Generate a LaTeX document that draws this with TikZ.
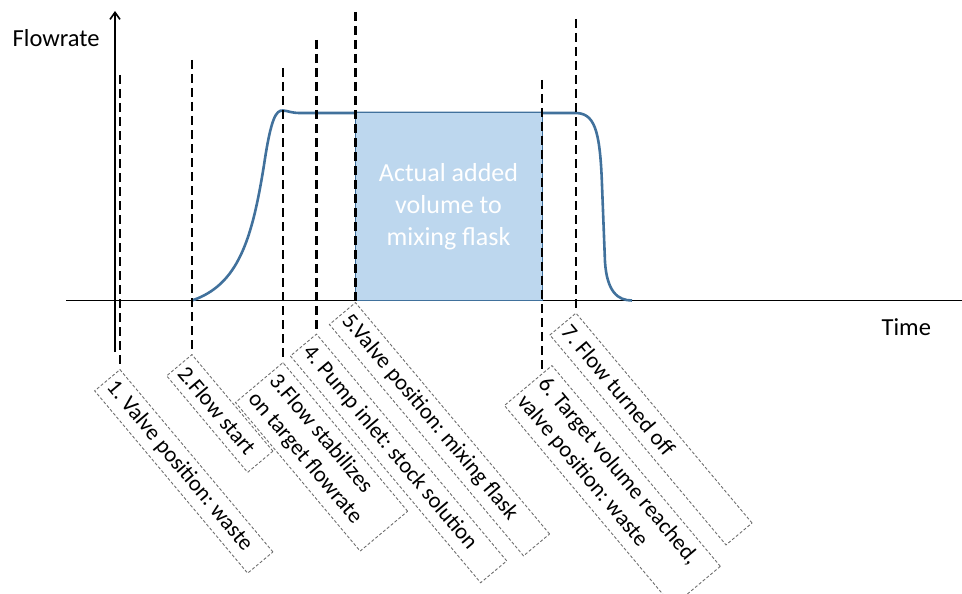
\documentclass[tikz,border=0pt]{standalone}
\usepackage{fontspec}
\setmainfont{Carlito}
\usetikzlibrary{arrows.meta,calc}
\definecolor{flowblue}{HTML}{41719C}
\definecolor{volfill}{HTML}{BDD7EE}
\definecolor{boxgray}{HTML}{6E6E6E}
\frenchspacing
\tikzset{
  axisline/.style={line width=1.6pt, black},
  marker/.style={draw=black, line width=2.7pt, dash pattern=on 9pt off 5pt},
  stepnote/.style={draw=boxgray, line width=0.9pt, dash pattern=on 3pt off 2pt,
    rotate=-50, anchor=north west, inner xsep=5pt, inner ysep=0pt, align=flush left,
    font=\fontsize{22.5}{27.5}\selectfont},
  axislabel/.style={anchor=base west, inner sep=0pt, font=\fontsize{24.5}{29}\selectfont},
}
\begin{document}
\begin{tikzpicture}[x=1pt,y=-1pt]
\useasboundingbox (0,0) rectangle (962,594);
\clip (0,0) rectangle (962,594);

% axes
\coordinate (xl) at (66,300.5);
\coordinate (xr) at (962,300.5);
\coordinate (yb) at (115,352);
\coordinate (yt) at (115,11);
\draw[axisline] (xl) -- (xr);
\draw[axisline, -{Straight Barb[length=7pt,width=10pt]}] (yb) -- (yt);
\node[axislabel] (ylab) at (12.5,46.5) {Flowrate};
\node[axislabel] (xlab) at (881.5,335.7) {Time};

% flow rate curve
\draw[flowblue, line width=2.6pt]
  (192,300.5) .. controls (238,285) and (252,240) .. (264,165)
  .. controls (271,118) and (276,110) .. (283,110.5)
  .. controls (289,111) and (291,113) .. (300,113) -- (575,113)
  .. controls (594,113) and (600,128) .. (602,185) -- (605,262)
  .. controls (607,292) and (618,300.5) .. (632,300.5);

% added volume
\node[draw=flowblue, fill=volfill, line width=0.8pt, minimum width=187pt,
  minimum height=188pt, inner sep=0pt, text=white, align=center,
  font=\fontsize{26}{32}\selectfont] (vol) at (448.5,206.5)
  {Actual added\\volume to\\mixing flask};

% step notes
\node[stepnote, minimum width=238pt, minimum height=33pt, text width=228pt] (n1) at (120,369) {1. Valve position: waste};
\node[stepnote, minimum width=126pt, minimum height=33pt, text width=116pt] (n2) at (192,354) {2.Flow start};
\node[stepnote, minimum width=194pt, minimum height=62pt, text width=184pt] (n3) at (283,362) {3.Flow stabilizes\\on target flowrate};
\node[stepnote, minimum width=296pt, minimum height=34pt, text width=286pt] (n4) at (316.5,333.5) {4. Pump inlet: stock solution};
\node[stepnote, minimum width=302pt, minimum height=34pt, text width=292pt] (n5) at (355.5,302) {5.Valve position: mixing flask};
\node[stepnote, minimum width=262pt, minimum height=62pt, text width=252pt] (n6) at (552,365) {6. Target volume reached,\\valve position: waste};
\node[stepnote, minimum width=274pt, minimum height=34pt, text width=264pt] (n7) at (576,312.5) {7. Flow turned off};

% event markers
\coordinate (m1) at (120,75);
\coordinate (m2) at (192,60);
\coordinate (m3) at (283,68);
\coordinate (m4) at (316.5,40);
\coordinate (m5) at (355.5,12);
\coordinate (m6) at (542,80);
\coordinate (m7) at (576,19);
\coordinate (e6) at ($(n6.north west)!0.2!(n6.south west)$);
\draw[marker] (m1) -- (m1 |- n1.north west);
\draw[marker] (m2) -- (m2 |- n2.north west);
\draw[marker] (m3) -- (m3 |- n3.north west);
\draw[marker] (m4) -- (m4 |- n4.north west);
\draw[marker] (m5) -- (m5 |- n5.north west);
\draw[marker] (m6) -- (m6 |- e6);
\draw[marker] (m7) -- (m7 |- n7.north west);
\end{tikzpicture}
\end{document}
